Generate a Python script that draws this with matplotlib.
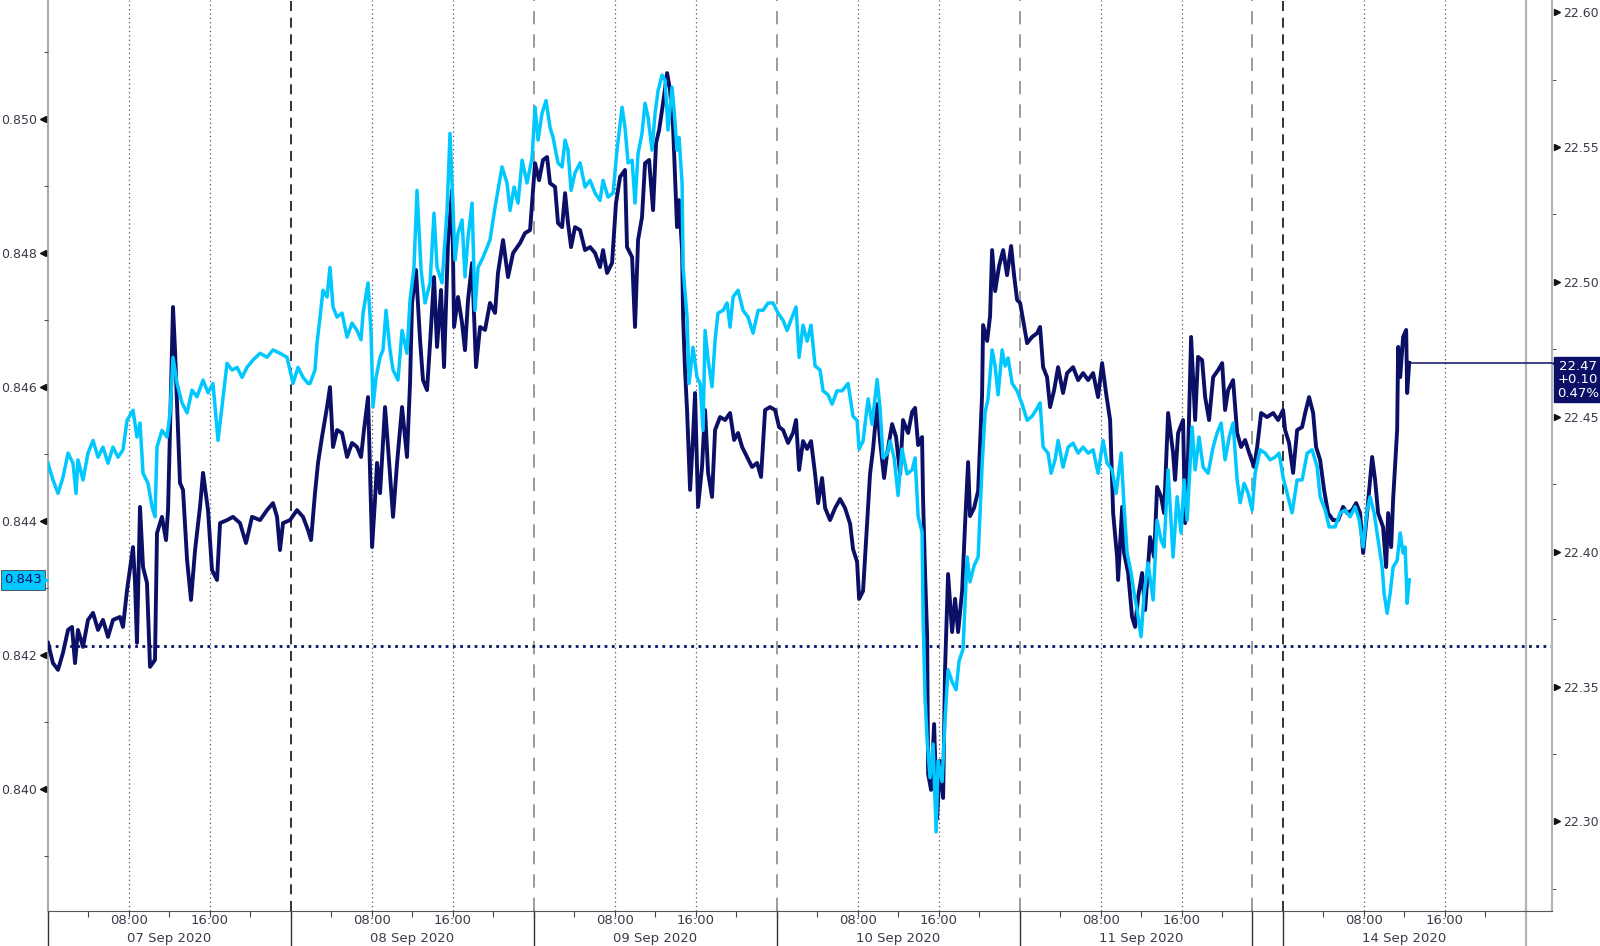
import matplotlib
matplotlib.use("Agg")
import matplotlib.pyplot as plt
import matplotlib.transforms as mtransforms
from matplotlib.ticker import FixedLocator

# time axis: hours since 07 Sep 2020 00:00, trading time (weekend cut out)
day_starts = [0, 24, 48, 72, 96, 122]
day_labels = ["07 Sep 2020", "08 Sep 2020", "09 Sep 2020", "10 Sep 2020", "11 Sep 2020", "14 Sep 2020"]
weekend_break = 119
next_day = 146
x_end = 148.6

# light blue series (left axis)
cyan_t = [0.0, 0.49, 0.99, 1.48, 1.98, 2.47, 2.77, 2.96, 3.46, 3.95, 4.45, 4.94, 5.43, 5.93, 6.42, 6.92, 7.41, 7.81, 8.40, 8.79,
          9.09, 9.39, 9.88, 10.28, 10.57, 10.77, 11.26, 11.76, 12.06, 12.35, 12.75, 13.24, 13.74, 14.23, 14.72, 15.32, 15.81, 16.30, 16.80, 17.19,
          17.69, 18.18, 18.68, 19.17, 19.66, 20.26, 20.95, 21.64, 22.23, 22.92, 23.62, 24.21, 24.70, 25.20, 25.69,
          25.89, 26.38, 26.58, 26.88, 27.17, 27.57, 27.86, 28.16, 28.56, 29.05, 29.55, 30.04, 30.53, 30.93, 31.13, 31.62, 31.92, 32.11, 32.41, 32.81,
          33.10, 33.40, 33.79, 34.09, 34.58, 34.98, 35.47, 35.77, 36.16, 36.46, 36.86, 37.25, 37.75, 38.14, 38.44, 38.93, 39.43, 39.72, 39.92, 40.22,
          40.51, 40.91, 41.20, 41.50, 41.90, 42.19, 42.49, 42.98, 43.67, 44.17, 44.86, 45.35, 45.65, 46.05, 46.44, 46.84, 47.33, 47.83, 48.12, 48.42,
          48.81, 49.21, 49.60, 49.90, 50.39,
          50.79, 51.09, 51.38, 51.68, 52.07, 52.57, 53.06, 53.56, 54.05, 54.54, 54.84, 55.33, 55.83, 56.22, 56.72, 57.01, 57.31, 57.71, 58.00, 58.30,
          58.69, 58.99, 59.29, 59.68, 59.98, 60.28, 60.67, 60.97, 61.26, 61.66, 61.86, 62.15, 62.35, 62.65, 62.75, 63.14, 63.34, 63.73, 64.13, 64.43,
          64.72, 64.92, 65.22, 65.61, 65.91, 66.20, 66.70, 67.09, 67.39, 67.69, 68.18, 68.67, 69.17, 69.66, 70.16, 70.65, 71.14, 71.64, 72.13, 72.63,
          73.02, 73.52, 73.91, 74.21,
          74.60, 75.00, 75.39, 75.79, 76.28, 76.58, 77.07, 77.47, 77.96, 78.46, 79.05, 79.54, 79.94, 80.14, 80.53, 81.03, 81.42, 81.92, 82.21, 82.51,
          82.90, 83.20, 83.60, 83.99, 84.38, 84.88, 85.38, 85.67, 85.97, 86.36, 86.46, 86.66, 86.86, 87.15, 87.45, 87.75, 87.94, 88.34, 88.63, 88.93,
          89.33, 89.72, 90.02, 90.41, 90.81, 91.10, 91.50, 91.90, 92.29, 92.59, 92.88, 93.28, 93.58, 93.87, 94.27, 94.57, 94.86, 95.26, 95.75, 96.25,
          96.74, 97.23, 97.73,
          98.02, 98.32, 98.81, 99.11, 99.50, 99.80, 100.29, 100.79, 101.28, 101.78, 102.27, 102.77, 103.26, 103.75, 104.25, 104.64, 105.14, 105.53, 106.03, 106.32,
          106.62, 107.02, 107.31, 107.61, 108.00, 108.30, 108.69, 109.19, 109.58, 109.98, 110.27, 110.67, 111.16, 111.56, 111.95, 112.25, 112.55, 113.04, 113.34, 113.73,
          114.13, 114.62, 115.12, 115.51, 115.91, 116.30, 116.70, 117.09, 117.49, 117.79, 118.18, 118.58, 118.97, 119.27, 119.76, 120.26, 120.75, 121.24, 121.64,
          122.03, 122.43, 122.92, 123.42, 123.91, 124.41, 124.90, 125.40, 125.69, 126.19, 126.58, 127.17, 127.67, 128.16, 128.66, 129.15, 129.55, 129.94, 130.33, 130.63,
          131.02, 131.42, 131.82, 132.01, 132.31, 132.61, 132.90, 133.30, 133.60, 133.89, 134.09, 134.29, 134.49]
cyan_v = [0.84486, 0.84461, 0.84441, 0.84465, 0.84501, 0.84486, 0.84441, 0.84491, 0.84461, 0.84501, 0.84520, 0.84495, 0.84510, 0.84486, 0.84510, 0.84495, 0.84506, 0.84550, 0.84565, 0.84525,
          0.84546, 0.84471, 0.84456, 0.84421, 0.84406, 0.84510, 0.84535, 0.84525, 0.84561, 0.84644, 0.84605, 0.84576, 0.84561, 0.84595, 0.84585, 0.84610, 0.84591, 0.84605, 0.84520, 0.84570,
          0.84635, 0.84625, 0.84629, 0.84614, 0.84629, 0.84640, 0.84650, 0.84644, 0.84655, 0.84650, 0.84644, 0.84605, 0.84629, 0.84614, 0.84605,
          0.84605, 0.84625, 0.84665, 0.84704, 0.84744, 0.84734, 0.84778, 0.84719, 0.84704, 0.84710, 0.84674, 0.84695, 0.84684, 0.84670, 0.84710, 0.84755, 0.84680, 0.84570, 0.84614, 0.84644,
          0.84655, 0.84714, 0.84655, 0.84625, 0.84610, 0.84684, 0.84650, 0.84729, 0.84778, 0.84893, 0.84774, 0.84725, 0.84755, 0.84859, 0.84778, 0.84755, 0.84863, 0.84978, 0.84904, 0.84789,
          0.84829, 0.84849, 0.84764, 0.84823, 0.84874, 0.84714, 0.84778, 0.84793, 0.84819, 0.84868, 0.84928, 0.84904, 0.84863, 0.84898, 0.84874, 0.84938, 0.84904, 0.84942, 0.85017, 0.84968,
          0.85008, 0.85027, 0.84987, 0.84972, 0.84934,
          0.84928, 0.84968, 0.84953, 0.84893, 0.84919, 0.84934, 0.84898, 0.84908, 0.84889, 0.84878, 0.84908, 0.84883, 0.84889, 0.84953, 0.85017, 0.84987, 0.84934, 0.84938, 0.84874, 0.84948,
          0.84978, 0.85023, 0.85002, 0.84953, 0.85008, 0.85042, 0.85065, 0.85057, 0.84983, 0.85047, 0.85013, 0.84953, 0.84972, 0.84904, 0.84778, 0.84704, 0.84605, 0.84659, 0.84614, 0.84605,
          0.84535, 0.84684, 0.84640, 0.84600, 0.84670, 0.84710, 0.84714, 0.84725, 0.84689, 0.84734, 0.84744, 0.84714, 0.84704, 0.84680, 0.84714, 0.84714, 0.84725, 0.84725, 0.84710, 0.84699,
          0.84684, 0.84704, 0.84719, 0.84644,
          0.84692, 0.84668, 0.84692, 0.84631, 0.84625, 0.84594, 0.84588, 0.84574, 0.84594, 0.84594, 0.84605, 0.84556, 0.84550, 0.84507, 0.84519, 0.84582, 0.84544, 0.84611, 0.84568, 0.84494,
          0.84500, 0.84519, 0.84494, 0.84438, 0.84507, 0.84470, 0.84476, 0.84494, 0.84407, 0.84383, 0.84258, 0.84134, 0.84073, 0.84017, 0.84067, 0.83936, 0.84042, 0.84011, 0.84103, 0.84178,
          0.84160, 0.84148, 0.84191, 0.84209, 0.84346, 0.84309, 0.84333, 0.84346, 0.84482, 0.84562, 0.84582, 0.84655, 0.84631, 0.84588, 0.84655, 0.84631, 0.84643, 0.84605, 0.84594, 0.84574,
          0.84550, 0.84556, 0.84568,
          0.84576, 0.84510, 0.84501, 0.84471, 0.84491, 0.84520, 0.84480, 0.84510, 0.84516, 0.84501, 0.84510, 0.84501, 0.84506, 0.84471, 0.84520, 0.84486, 0.84476, 0.84441, 0.84501, 0.84421,
          0.84352, 0.84322, 0.84292, 0.84267, 0.84227, 0.84292, 0.84337, 0.84282, 0.84401, 0.84371, 0.84361, 0.84476, 0.84346, 0.84436, 0.84382, 0.84461, 0.84401, 0.84540, 0.84476, 0.84525,
          0.84480, 0.84471, 0.84510, 0.84531, 0.84546, 0.84491, 0.84525, 0.84546, 0.84461, 0.84427, 0.84456, 0.84441, 0.84416, 0.84471, 0.84506, 0.84501, 0.84491, 0.84495, 0.84501,
          0.84465, 0.84441, 0.84412, 0.84461, 0.84461, 0.84501, 0.84506, 0.84480, 0.84436, 0.84416, 0.84391, 0.84391, 0.84412, 0.84416, 0.84406, 0.84421, 0.84401, 0.84361, 0.84416, 0.84436,
          0.84412, 0.84371, 0.84331, 0.84292, 0.84262, 0.84292, 0.84331, 0.84341, 0.84382, 0.84352, 0.84361, 0.84277, 0.84312]

# navy series (right axis)
navy_t = [0.00, 0.49, 0.99, 1.48, 1.98, 2.37, 2.67, 2.96, 3.46, 3.95, 4.45, 4.94, 5.43, 5.93, 6.42, 7.11, 7.41, 7.81, 8.40, 8.60,
          8.79, 9.09, 9.39, 9.78, 10.08, 10.57, 10.77, 11.26, 11.66, 11.86, 12.35, 12.55, 13.04, 13.34, 13.74, 14.13, 14.53, 15.02, 15.32, 15.81,
          16.20, 16.70, 17.00, 17.69, 18.28, 18.97, 19.56, 20.16, 20.95, 21.64, 22.23, 22.63, 22.92, 23.22, 23.91, 24.60, 25.20, 25.69,
          25.99, 26.38, 26.68, 27.07, 27.57, 27.86, 28.16, 28.56, 29.05, 29.55, 30.04, 30.53, 30.93, 31.22, 31.62, 32.02, 32.31, 32.51, 32.81, 33.30,
          33.69, 34.09, 34.49, 34.98, 35.47, 35.77, 35.97, 36.36, 36.76, 37.05, 37.45, 37.75, 38.14, 38.44, 38.83, 39.13, 39.52, 39.92, 40.12, 40.51,
          40.91, 41.20, 41.50, 41.90, 42.29, 42.69, 43.18, 43.67, 44.17, 44.46, 44.96, 45.45, 45.95, 46.64, 47.13, 47.63, 48.12, 48.52, 48.91, 49.31,
          49.60, 50.10, 50.39,
          50.79, 51.09, 51.38, 51.68, 52.07, 52.57, 53.06, 53.56, 54.05, 54.54, 54.84, 55.24, 55.73, 56.12, 56.52, 57.01, 57.21, 57.71, 58.00, 58.30,
          58.69, 58.99, 59.39, 59.78, 60.08, 60.38, 60.77, 61.17, 61.46, 61.76, 62.15, 62.35, 62.65, 62.75, 62.94, 63.14, 63.44, 63.73, 63.93, 64.23,
          64.62, 64.92, 65.22, 65.61, 65.91, 66.40, 66.90, 67.39, 67.79, 68.18, 68.58, 69.07, 69.56, 70.06, 70.45, 70.85, 71.34, 71.84, 72.23, 72.63,
          73.12, 73.61, 73.91, 74.21,
          74.60, 75.00, 75.39, 75.79, 76.09, 76.48, 76.78, 77.27, 77.77, 78.26, 78.75, 79.25, 79.54, 79.94, 80.14, 80.53, 80.93, 81.22, 81.52, 81.92,
          82.21, 82.61, 82.90, 83.40, 83.79, 84.19, 84.48, 84.98, 85.38, 85.67, 85.97, 86.36, 86.46, 86.66, 86.86, 86.96, 87.25, 87.55, 87.84, 88.14,
          88.44, 88.63, 88.93, 89.33, 89.62, 89.92, 90.32, 90.61, 90.91, 91.10, 91.50, 91.90, 92.29, 92.39, 92.79, 93.08, 93.28, 93.58, 93.97, 94.37,
          94.76, 95.16, 95.45,
          95.75, 96.05, 96.34, 96.74, 97.23, 97.73, 98.02, 98.32, 98.71, 99.01, 99.41, 99.80, 100.29, 100.69, 101.28, 101.78, 102.27, 102.77, 103.26, 103.75,
          104.15, 104.54, 104.94, 105.24, 105.63, 105.73, 106.13, 106.32, 106.72, 107.11, 107.41, 107.71, 108.10, 108.40, 108.89, 109.29, 109.58, 109.98, 110.27, 110.67,
          111.16, 111.36, 111.66, 112.15, 112.35, 112.65, 112.94, 113.34, 113.63, 114.03, 114.33, 114.72, 115.12, 115.61, 116.01, 116.30, 116.60, 117.09, 117.49, 117.88,
          118.28, 118.68, 119.17, 119.47, 119.86, 120.45, 121.05, 121.54,
          122.03, 122.23, 122.62, 123.02, 123.42, 123.91, 124.21, 124.60, 125.00, 125.29, 125.69, 126.08, 126.48, 126.97, 127.47, 127.96, 128.36, 128.85, 129.25, 129.64,
          129.94, 130.33, 130.83, 131.12, 131.42, 131.91, 132.21, 132.41, 132.71, 132.90, 133.30, 133.40, 133.60, 133.89, 134.19, 134.29, 134.49]
navy_v = [22.3662, 22.3587, 22.3562, 22.3625, 22.3710, 22.3721, 22.3587, 22.3710, 22.3647, 22.3747, 22.3773, 22.3710, 22.3747, 22.3684, 22.3747, 22.3758, 22.3721, 22.3858, 22.4017, 22.3884,
          22.3662, 22.4166, 22.3943, 22.3884, 22.3573, 22.3599, 22.4069, 22.4129, 22.4043, 22.4154, 22.4907, 22.4747, 22.4255, 22.4229, 22.3969, 22.3821, 22.4006, 22.4166, 22.4292, 22.4154,
          22.3932, 22.3895, 22.4106, 22.4117, 22.4129, 22.4106, 22.4032, 22.4129, 22.4117, 22.4154, 22.4180, 22.4129, 22.4006, 22.4106, 22.4117, 22.4154, 22.4129, 22.4080,
          22.4043, 22.4217, 22.4329, 22.4425, 22.4536, 22.4610, 22.4388, 22.4451, 22.4440, 22.4351, 22.4403, 22.4388, 22.4351, 22.4451, 22.4573, 22.4017, 22.4192, 22.4329, 22.4217, 22.4536,
          22.4340, 22.4129, 22.4329, 22.4536, 22.4351, 22.4625, 22.4922, 22.5044, 22.4785, 22.4636, 22.4599, 22.4773, 22.5018, 22.4759, 22.4970, 22.4684, 22.5144, 22.5340, 22.4833, 22.4944,
          22.4848, 22.4747, 22.4933, 22.5070, 22.4684, 22.4833, 22.4822, 22.4922, 22.4885, 22.5033, 22.5155, 22.5018, 22.5107, 22.5144, 22.5181, 22.5192, 22.5440, 22.5377, 22.5452, 22.5463,
          22.5366, 22.5352, 22.5218,
          22.5203, 22.5329, 22.5218, 22.5129, 22.5203, 22.5192, 22.5118, 22.5129, 22.5107, 22.5055, 22.5118, 22.5033, 22.5070, 22.5292, 22.5389, 22.5415, 22.5129, 22.5092, 22.4833, 22.5155,
          22.5240, 22.5440, 22.5452, 22.5266, 22.5515, 22.5563, 22.5663, 22.5774, 22.5711, 22.5574, 22.5203, 22.5303, 22.5118, 22.4870, 22.4673, 22.4525, 22.4229, 22.4425, 22.4588, 22.4166,
          22.4314, 22.4525, 22.4292, 22.4203, 22.4451, 22.4499, 22.4488, 22.4514, 22.4414, 22.4440, 22.4388, 22.4351, 22.4314, 22.4329, 22.4277, 22.4525, 22.4536, 22.4525, 22.4462, 22.4451,
          22.4403, 22.4440, 22.4488, 22.4303,
          22.4410, 22.4381, 22.4410, 22.4288, 22.4180, 22.4273, 22.4162, 22.4117, 22.4162, 22.4195, 22.4162, 22.4103, 22.4010, 22.3962, 22.3825, 22.3854, 22.4103, 22.4288, 22.4381, 22.4547,
          22.4410, 22.4273, 22.4362, 22.4473, 22.4425, 22.4288, 22.4488, 22.4440, 22.4518, 22.4533, 22.4395, 22.4425, 22.4195, 22.3917, 22.3688, 22.3176, 22.3117, 22.3361, 22.3009, 22.3224,
          22.3087, 22.3562, 22.3917, 22.3702, 22.3825, 22.3702, 22.3854, 22.4103, 22.4332, 22.4132, 22.4162, 22.4225, 22.4581, 22.4840, 22.4781, 22.4873, 22.5118, 22.4966, 22.5059, 22.5118,
          22.5025, 22.5133, 22.5025,
          22.4933, 22.4922, 22.4859, 22.4773, 22.4796, 22.4810, 22.4833, 22.4684, 22.4647, 22.4536, 22.4599, 22.4684, 22.4588, 22.4662, 22.4684, 22.4636, 22.4662, 22.4636, 22.4662, 22.4573,
          22.4699, 22.4588, 22.4488, 22.4143, 22.3980, 22.3895, 22.4166, 22.3995, 22.3921, 22.3758, 22.3721, 22.3832, 22.3921, 22.3784, 22.4054, 22.3980, 22.4240, 22.4203, 22.4143, 22.4514,
          22.4366, 22.4266, 22.4440, 22.4488, 22.4106, 22.4366, 22.4796, 22.4488, 22.4722, 22.4710, 22.4573, 22.4488, 22.4647, 22.4673, 22.4699, 22.4525, 22.4599, 22.4636, 22.4440, 22.4388,
          22.4414, 22.4366, 22.4314, 22.4388, 22.4514, 22.4499, 22.4514, 22.4488,
          22.4525, 22.4451, 22.4403, 22.4292, 22.4451, 22.4462, 22.4514, 22.4573, 22.4514, 22.4388, 22.4340, 22.4229, 22.4143, 22.4117, 22.4117, 22.4166, 22.4143, 22.4154, 22.4180, 22.4143,
          22.3995, 22.4143, 22.4351, 22.4266, 22.4143, 22.4091, 22.3943, 22.4143, 22.4017, 22.4192, 22.4451, 22.4759, 22.4647, 22.4796, 22.4822, 22.4588, 22.4700]

prev_close = 22.365
navy_label = "22.47\n+0.10\n0.47%"
cyan_label = "0.843"

left_ticks = [0.840, 0.842, 0.844, 0.846, 0.848, 0.850]
right_ticks = [22.30, 22.35, 22.40, 22.45, 22.50, 22.55, 22.60]

NAVY = "#0b1066"
CYAN = "#00c8ff"
TXT = "#3a3a4a"

fig = plt.figure(figsize=(16, 9.46), dpi=100)
ax = fig.add_axes([0.03, 0.037, 0.94, 0.963])   # navy, right scale
ax2 = ax.twinx()                                  # light blue, left scale

ax.set_xlim(0, x_end)
ax.set_ylim(22.2668, 22.6045)
ax2.set_ylim(0.83818, 0.85177)

# vertical grid: day boundaries and 08:00 / 16:00
black_days = {0, 24, 122}
for d in day_starts:
    col = "#111111" if d in black_days else "#8a8a8a"
    dash = (6, 4) if d in black_days else (8, 6)
    ax.axvline(d, color=col, lw=1.2, ls=(0, dash), zorder=1)
    for hh in (8, 16):
        ax.axvline(d + hh, color="#555555", lw=0.9, ls=(0, (1, 2.5)), zorder=1)
ax.axvline(weekend_break, color="#8a8a8a", lw=1.2, ls=(0, (8, 6)), zorder=1)
ax.axvline(next_day, color="#b4b4b4", lw=1.6, zorder=1)

# separators below the time axis
sep_tr = mtransforms.blended_transform_factory(ax.transData, ax.transAxes)
for d in day_starts + [weekend_break]:
    ax.plot([d, d], [0, -0.04], transform=sep_tr, color="#333333", lw=1, clip_on=False)
ax.plot([next_day, next_day], [0, -0.04], transform=sep_tr, color="#b4b4b4", lw=1.6, clip_on=False)

# series
ax.axhline(prev_close, color=NAVY, lw=2, ls=(0, (1, 1.6)), zorder=2)
ax.plot(navy_t, navy_v, color=NAVY, lw=2.8, zorder=3, solid_joinstyle="round")
ax.plot([navy_t[-1], x_end], [navy_v[-1], navy_v[-1]], color=NAVY, lw=1.1, zorder=3)
ax2.plot(cyan_t, cyan_v, color=CYAN, lw=2.5, zorder=3, solid_joinstyle="round")

# spines
for a in (ax, ax2):
    for s in a.spines.values():
        s.set_visible(False)
ax.spines["bottom"].set_visible(True)
ax.spines["bottom"].set_color("#555555")
ax.spines["left"].set_visible(True)
ax.spines["left"].set_color("#aaaaaa")
ax.spines["left"].set_linewidth(1.5)
ax.spines["right"].set_visible(True)
ax.spines["right"].set_color("#b4b4b4")
ax.spines["right"].set_linewidth(1.6)

# x ticks every 4 hours, labels drawn as text
ticks4 = [d + h for d in day_starts for h in range(0, 24, 4)]
ax.set_xticks(ticks4)
ax.tick_params(axis="x", length=4, color="#444444", labelbottom=False)
lab_tr = mtransforms.blended_transform_factory(ax.transData, fig.transFigure)
for d, lab in zip(day_starts, day_labels):
    for hh, s in ((8, "08:00"), (16, "16:00")):
        ax.text(d + hh, 1 - 920 / 946, s, transform=lab_tr, ha="center", va="center",
                fontsize=9.5, color=TXT)
    ax.text(d + 12, 1 - 938 / 946, lab, transform=lab_tr, ha="center", va="center",
            fontsize=9.5, color=TXT)

# right axis (navy)
ax.yaxis.tick_right()
ax.set_yticks(right_ticks)
ax.set_yticklabels([f"{v:.2f}" for v in right_ticks])
ax.yaxis.set_minor_locator(FixedLocator([v + 0.025 for v in [22.25] + right_ticks]))
ax.tick_params(axis="y", which="major", length=0, pad=8, labelsize=9, labelcolor=TXT)
ax.tick_params(axis="y", which="minor", length=3, color="#333333")
rtr = mtransforms.blended_transform_factory(ax.transAxes, ax.transData)
ax.plot([1.0035] * len(right_ticks), right_ticks, ls="none", marker=">", ms=5,
        color="#111111", transform=rtr, clip_on=False)

# left axis (light blue)
ax2.yaxis.tick_left()
ax2.set_yticks(left_ticks)
ax2.set_yticklabels([f"{v:.3f}" for v in left_ticks])
ax2.yaxis.set_minor_locator(FixedLocator([v + 0.001 for v in [0.838] + left_ticks]))
ax2.tick_params(axis="y", which="major", length=0, pad=8, labelsize=9, labelcolor=TXT)
ax2.tick_params(axis="y", which="minor", length=3, color="#333333")
ltr = mtransforms.blended_transform_factory(ax2.transAxes, ax2.transData)
ax2.plot([-0.0035] * len(left_ticks), left_ticks, ls="none", marker="<", ms=5,
         color="#111111", transform=ltr, clip_on=False)
ax2.set_xlim(0, x_end)

# last value labels
ax2.annotate(cyan_label, xy=(0, cyan_v[-1]), xycoords=ltr, xytext=(-25, 0),
             textcoords="offset pixels", ha="center", va="center", fontsize=9.5,
             color=NAVY, zorder=10, annotation_clip=False,
             bbox=dict(boxstyle="square,pad=0.25", fc=CYAN, ec="#444444", lw=0.6))
ax2.plot([-0.0022], [cyan_v[-1]], marker=">", ms=5, color=CYAN, transform=ltr, clip_on=False, zorder=10)
ax.annotate(navy_label, xy=(1, navy_v[-1]), xycoords=rtr, xytext=(26, 3),
            textcoords="offset pixels", ha="center", va="top", fontsize=9.5,
            color="white", linespacing=1.05, zorder=10, annotation_clip=False,
            bbox=dict(boxstyle="square,pad=0.2", fc=NAVY, ec=NAVY))
ax.plot([1.0018], [navy_v[-1]], marker="<", ms=5, color=NAVY, transform=rtr, clip_on=False, zorder=10)

fig.savefig("out.png", dpi=100, facecolor="white")
